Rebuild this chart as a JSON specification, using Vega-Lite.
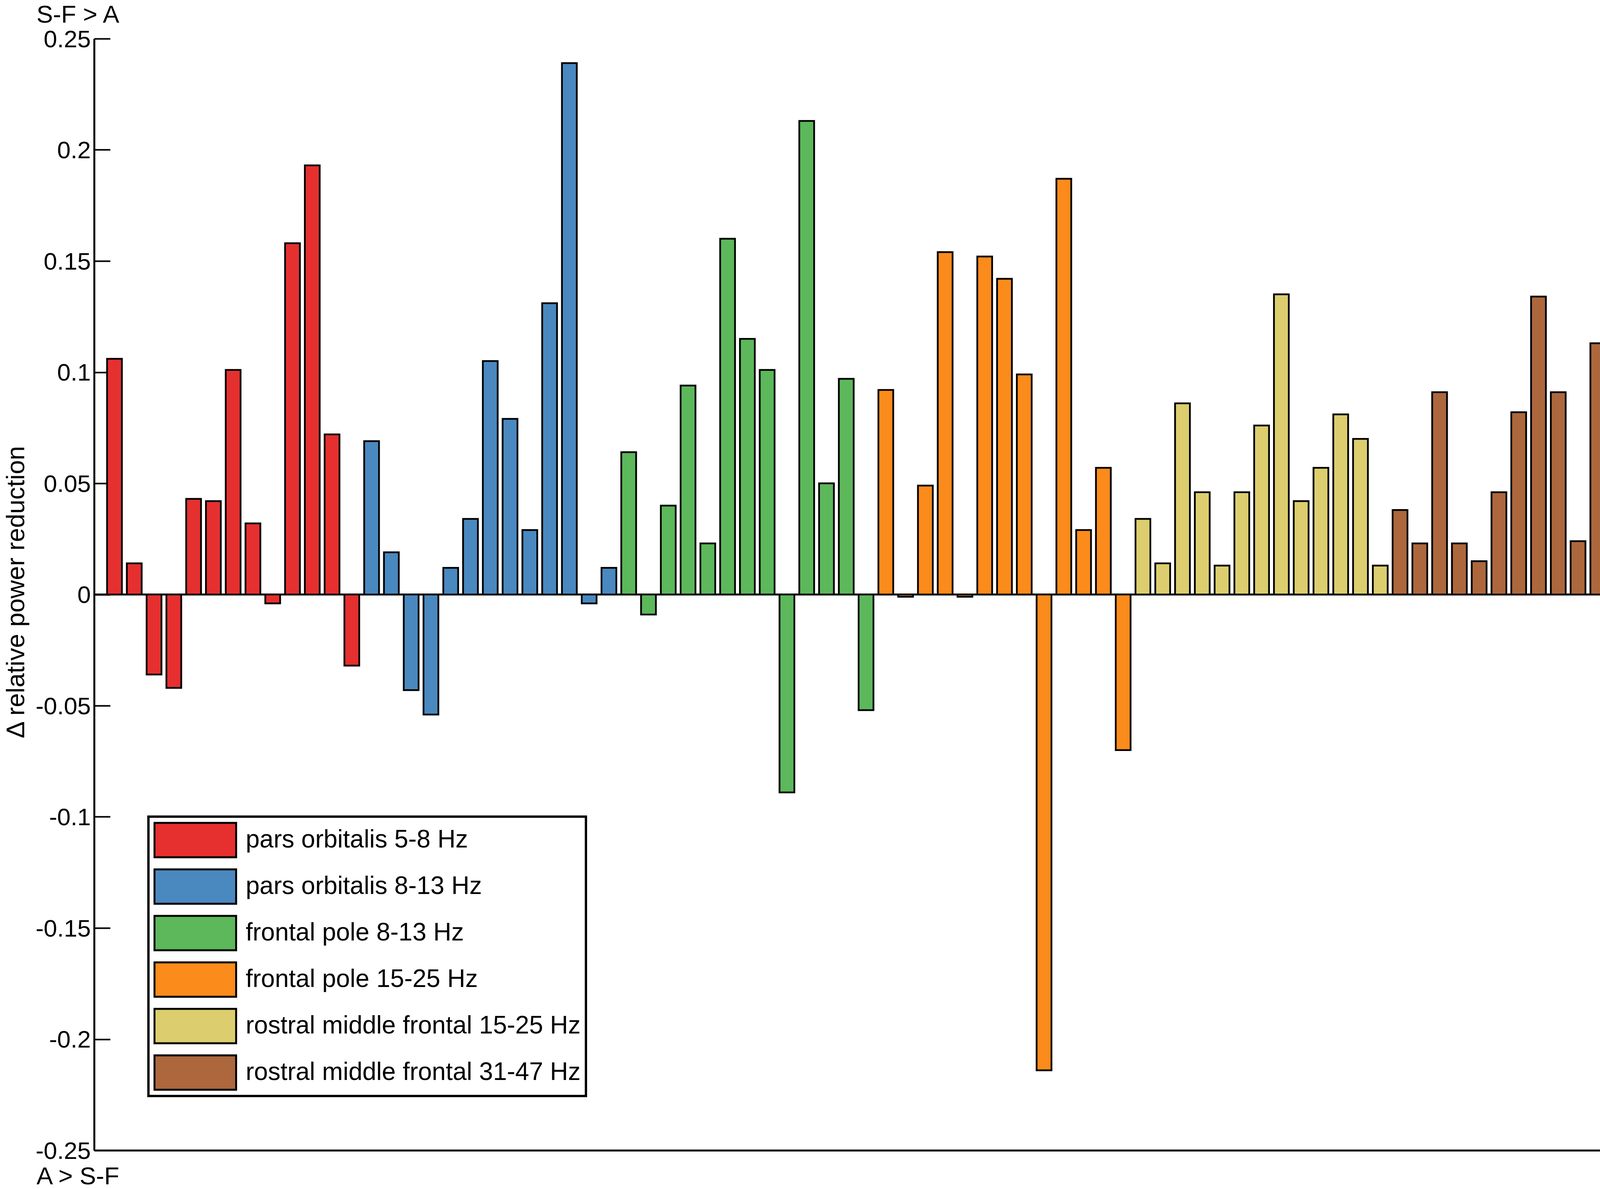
{
  "$schema": "https://vega.github.io/schema/vega-lite/v6.json",
  "width": 4062,
  "height": 2845,
  "autosize": {"type": "none"},
  "padding": {"left": 241, "top": 99, "right": 13, "bottom": 99},
  "background": "white",
  "data": {
    "values": [
      {"i": 1, "g": "pars orbitalis 5-8 Hz", "v": 0.106},
      {"i": 2, "g": "pars orbitalis 5-8 Hz", "v": 0.014},
      {"i": 3, "g": "pars orbitalis 5-8 Hz", "v": -0.036},
      {"i": 4, "g": "pars orbitalis 5-8 Hz", "v": -0.042},
      {"i": 5, "g": "pars orbitalis 5-8 Hz", "v": 0.043},
      {"i": 6, "g": "pars orbitalis 5-8 Hz", "v": 0.042},
      {"i": 7, "g": "pars orbitalis 5-8 Hz", "v": 0.101},
      {"i": 8, "g": "pars orbitalis 5-8 Hz", "v": 0.032},
      {"i": 9, "g": "pars orbitalis 5-8 Hz", "v": -0.004},
      {"i": 10, "g": "pars orbitalis 5-8 Hz", "v": 0.158},
      {"i": 11, "g": "pars orbitalis 5-8 Hz", "v": 0.193},
      {"i": 12, "g": "pars orbitalis 5-8 Hz", "v": 0.072},
      {"i": 13, "g": "pars orbitalis 5-8 Hz", "v": -0.032},
      {"i": 14, "g": "pars orbitalis 8-13 Hz", "v": 0.069},
      {"i": 15, "g": "pars orbitalis 8-13 Hz", "v": 0.019},
      {"i": 16, "g": "pars orbitalis 8-13 Hz", "v": -0.043},
      {"i": 17, "g": "pars orbitalis 8-13 Hz", "v": -0.054},
      {"i": 18, "g": "pars orbitalis 8-13 Hz", "v": 0.012},
      {"i": 19, "g": "pars orbitalis 8-13 Hz", "v": 0.034},
      {"i": 20, "g": "pars orbitalis 8-13 Hz", "v": 0.105},
      {"i": 21, "g": "pars orbitalis 8-13 Hz", "v": 0.079},
      {"i": 22, "g": "pars orbitalis 8-13 Hz", "v": 0.029},
      {"i": 23, "g": "pars orbitalis 8-13 Hz", "v": 0.131},
      {"i": 24, "g": "pars orbitalis 8-13 Hz", "v": 0.239},
      {"i": 25, "g": "pars orbitalis 8-13 Hz", "v": -0.004},
      {"i": 26, "g": "pars orbitalis 8-13 Hz", "v": 0.012},
      {"i": 27, "g": "frontal pole 8-13 Hz", "v": 0.064},
      {"i": 28, "g": "frontal pole 8-13 Hz", "v": -0.009},
      {"i": 29, "g": "frontal pole 8-13 Hz", "v": 0.040},
      {"i": 30, "g": "frontal pole 8-13 Hz", "v": 0.094},
      {"i": 31, "g": "frontal pole 8-13 Hz", "v": 0.023},
      {"i": 32, "g": "frontal pole 8-13 Hz", "v": 0.160},
      {"i": 33, "g": "frontal pole 8-13 Hz", "v": 0.115},
      {"i": 34, "g": "frontal pole 8-13 Hz", "v": 0.101},
      {"i": 35, "g": "frontal pole 8-13 Hz", "v": -0.089},
      {"i": 36, "g": "frontal pole 8-13 Hz", "v": 0.213},
      {"i": 37, "g": "frontal pole 8-13 Hz", "v": 0.050},
      {"i": 38, "g": "frontal pole 8-13 Hz", "v": 0.097},
      {"i": 39, "g": "frontal pole 8-13 Hz", "v": -0.052},
      {"i": 40, "g": "frontal pole 15-25 Hz", "v": 0.092},
      {"i": 41, "g": "frontal pole 15-25 Hz", "v": -0.001},
      {"i": 42, "g": "frontal pole 15-25 Hz", "v": 0.049},
      {"i": 43, "g": "frontal pole 15-25 Hz", "v": 0.154},
      {"i": 44, "g": "frontal pole 15-25 Hz", "v": -0.001},
      {"i": 45, "g": "frontal pole 15-25 Hz", "v": 0.152},
      {"i": 46, "g": "frontal pole 15-25 Hz", "v": 0.142},
      {"i": 47, "g": "frontal pole 15-25 Hz", "v": 0.099},
      {"i": 48, "g": "frontal pole 15-25 Hz", "v": -0.214},
      {"i": 49, "g": "frontal pole 15-25 Hz", "v": 0.187},
      {"i": 50, "g": "frontal pole 15-25 Hz", "v": 0.029},
      {"i": 51, "g": "frontal pole 15-25 Hz", "v": 0.057},
      {"i": 52, "g": "frontal pole 15-25 Hz", "v": -0.070},
      {"i": 53, "g": "rostral middle frontal 15-25 Hz", "v": 0.034},
      {"i": 54, "g": "rostral middle frontal 15-25 Hz", "v": 0.014},
      {"i": 55, "g": "rostral middle frontal 15-25 Hz", "v": 0.086},
      {"i": 56, "g": "rostral middle frontal 15-25 Hz", "v": 0.046},
      {"i": 57, "g": "rostral middle frontal 15-25 Hz", "v": 0.013},
      {"i": 58, "g": "rostral middle frontal 15-25 Hz", "v": 0.046},
      {"i": 59, "g": "rostral middle frontal 15-25 Hz", "v": 0.076},
      {"i": 60, "g": "rostral middle frontal 15-25 Hz", "v": 0.135},
      {"i": 61, "g": "rostral middle frontal 15-25 Hz", "v": 0.042},
      {"i": 62, "g": "rostral middle frontal 15-25 Hz", "v": 0.057},
      {"i": 63, "g": "rostral middle frontal 15-25 Hz", "v": 0.081},
      {"i": 64, "g": "rostral middle frontal 15-25 Hz", "v": 0.070},
      {"i": 65, "g": "rostral middle frontal 15-25 Hz", "v": 0.013},
      {"i": 66, "g": "rostral middle frontal 31-47 Hz", "v": 0.038},
      {"i": 67, "g": "rostral middle frontal 31-47 Hz", "v": 0.023},
      {"i": 68, "g": "rostral middle frontal 31-47 Hz", "v": 0.091},
      {"i": 69, "g": "rostral middle frontal 31-47 Hz", "v": 0.023},
      {"i": 70, "g": "rostral middle frontal 31-47 Hz", "v": 0.015},
      {"i": 71, "g": "rostral middle frontal 31-47 Hz", "v": 0.046},
      {"i": 72, "g": "rostral middle frontal 31-47 Hz", "v": 0.082},
      {"i": 73, "g": "rostral middle frontal 31-47 Hz", "v": 0.134},
      {"i": 74, "g": "rostral middle frontal 31-47 Hz", "v": 0.091},
      {"i": 75, "g": "rostral middle frontal 31-47 Hz", "v": 0.024},
      {"i": 76, "g": "rostral middle frontal 31-47 Hz", "v": 0.113},
      {"i": 77, "g": "rostral middle frontal 31-47 Hz", "v": 0.101},
      {"i": 78, "g": "rostral middle frontal 31-47 Hz", "v": -0.054}
    ]
  },
  "layer": [
    {
      "mark": {"type": "rule", "color": "black", "strokeWidth": 3.5},
      "encoding": {
        "y": {
          "datum": 0,
          "type": "quantitative",
          "axis": {
            "orient": "right",
            "title": "S-F > A",
            "domain": false,
            "ticks": false,
            "labels": false,
            "grid": false,
            "titleAngle": 0,
            "titleAlign": "left",
            "titleBaseline": "alphabetic",
            "titleX": -4210,
            "titleY": -42,
            "titleFontSize": 63,
            "titleFontWeight": "normal",
            "titleFont": "Liberation Sans",
            "titleColor": "black"
          }
        }
      }
    },
    {
      "mark": {"type": "bar", "width": 38, "stroke": "black", "strokeWidth": 4.5},
      "encoding": {
        "x": {
          "field": "i",
          "type": "quantitative",
          "scale": {"domain": [0.07, 80.1], "nice": false, "zero": false},
          "axis": {
            "title": "A > S-F",
            "labels": false,
            "ticks": false,
            "grid": false,
            "domainColor": "black",
            "domainWidth": 5,
            "titleFontSize": 63,
            "titleFontWeight": "normal",
            "titleFont": "Liberation Sans",
            "titleColor": "black",
            "titleAnchor": "start",
            "titleAlign": "left",
            "titleBaseline": "alphabetic",
            "titleX": -148,
            "titleY": 86
          }
        },
        "y": {
          "field": "v",
          "type": "quantitative",
          "scale": {"domain": [-0.25, 0.25], "nice": false},
          "axis": {
            "orient": "left",
            "title": "Δ relative power reduction",
            "values": [-0.25, -0.2, -0.15, -0.1, -0.05, 0, 0.05, 0.1, 0.15, 0.2, 0.25],
            "labelExpr": "'' + datum.value",
            "grid": false,
            "domainColor": "black",
            "domainWidth": 5,
            "tickColor": "black",
            "tickWidth": 4,
            "tickSize": -41,
            "labelPadding": 50,
            "labelOffset": 2,
            "labelFontSize": 62,
            "labelFont": "Liberation Sans",
            "labelColor": "black",
            "titleFontSize": 65,
            "titleFontWeight": "normal",
            "titleFont": "Liberation Sans",
            "titleColor": "black",
            "titleAngle": -90,
            "titleAlign": "center",
            "titleBaseline": "middle",
            "titleX": -200,
            "titleY": 1416
          }
        },
        "color": {
          "field": "g",
          "type": "nominal",
          "scale": {
            "domain": ["pars orbitalis 5-8 Hz", "pars orbitalis 8-13 Hz", "frontal pole 8-13 Hz", "frontal pole 15-25 Hz", "rostral middle frontal 15-25 Hz", "rostral middle frontal 31-47 Hz"],
            "range": ["#E5302F", "#4A88C0", "#5CB85B", "#FB8B1A", "#DCCE6E", "#AD673D"]
          },
          "legend": {
            "title": null,
            "orient": "none",
            "legendX": 139,
            "legendY": 1991,
            "symbolType": "M-1,-0.421H1V0.421H-1Z",
            "symbolSize": 43681,
            "symbolStrokeColor": "black",
            "symbolStrokeWidth": 5,
            "symbolOpacity": 1,
            "clipHeight": 94,
            "rowPadding": 25,
            "labelOffset": 22,
            "labelFontSize": 64,
            "labelFont": "Liberation Sans",
            "labelColor": "black",
            "labelLimit": 2000,
            "padding": 13,
            "strokeColor": "black",
            "fillColor": "white"
          }
        }
      }
    }
  ],
  "resolve": {"axis": {"y": "independent"}},
  "config": {
    "view": {"stroke": null},
    "legend": {"strokeWidth": 6}
  }
}
